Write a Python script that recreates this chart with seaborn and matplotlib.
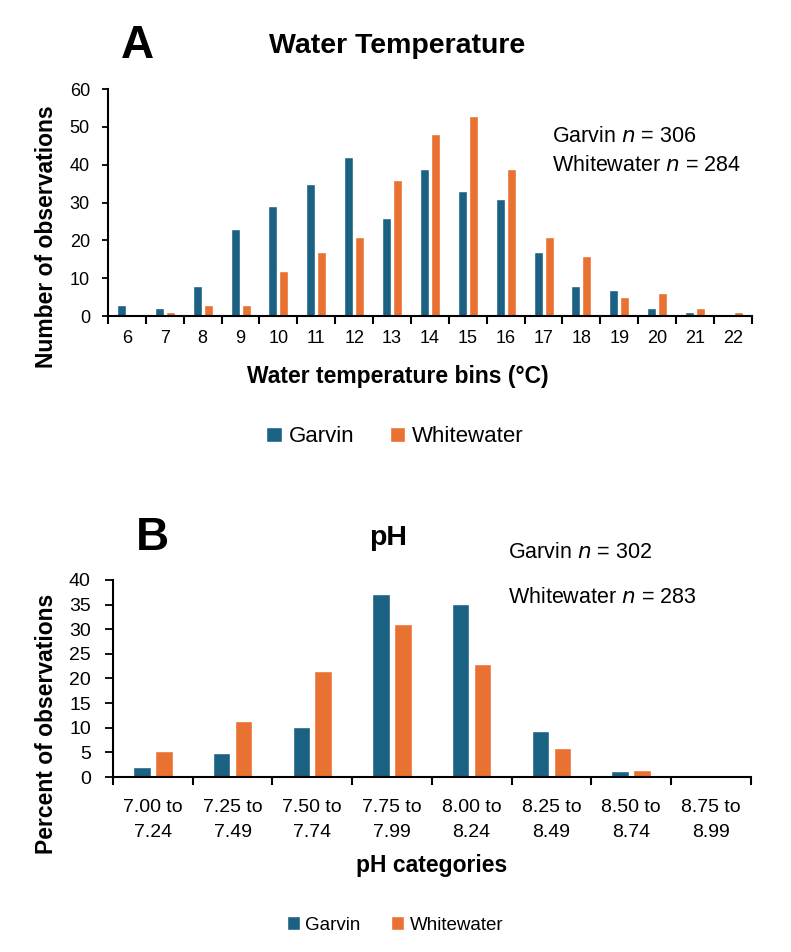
import seaborn as sns
import matplotlib.pyplot as plt
import numpy as np
import pandas as pd

# Panel A: water temperature bins (counts)
temp_bins = [str(t) for t in range(6, 23)]
garvin_temp = [3, 2, 8, 23, 29, 35, 42, 26, 39, 33, 31, 17, 8, 7, 2, 1, 0]
white_temp = [0, 1, 3, 3, 12, 17, 21, 36, 48, 53, 39, 21, 16, 5, 6, 2, 1]

# Panel B: pH categories (percent)
ph_bins = ['7.00 to\n7.24', '7.25 to\n7.49', '7.50 to\n7.74', '7.75 to\n7.99',
           '8.00 to\n8.24', '8.25 to\n8.49', '8.50 to\n8.74', '8.75 to\n8.99']
garvin_ph = [2.0, 4.9, 10.2, 37.1, 35.1, 9.3, 1.2, 0]
white_ph = [5.2, 11.3, 21.5, 31.0, 22.9, 5.8, 1.4, 0]

sites = ['Garvin', 'Whitewater']
palette = {'Garvin': '#1B6184', 'Whitewater': '#E97132'}


def to_long(bins, g, w):
    df = pd.DataFrame({'bin': bins, 'Garvin': g, 'Whitewater': w})
    return df.melt(id_vars='bin', var_name='site', value_name='value')


sns.set_theme(style='white')
plt.rcParams['font.family'] = ['Liberation Sans', 'DejaVu Sans']
plt.rcParams['text.color'] = 'black'
plt.rcParams['axes.labelcolor'] = 'black'
plt.rcParams['xtick.color'] = 'black'
plt.rcParams['ytick.color'] = 'black'

fig = plt.figure(figsize=(7.91, 9.52), dpi=100)

# axes positions in figure fractions (measured from reference)
axA = fig.add_axes([0.1365, 0.668, 0.814, 0.2384])
axB = fig.add_axes([0.1429, 0.1838, 0.806, 0.207])


def style_axis(ax, n, ymax, ystep, xpad, ypad, ytick_len):
    ax.set_xlim(-0.5, n - 0.5)
    ax.set_ylim(0, ymax)
    ax.set_yticks(np.arange(0, ymax + 0.1, ystep))
    ax.set_xticks(np.arange(-0.5, n, 1), minor=True)
    ax.tick_params(which='both', bottom=True, left=True)
    ax.tick_params(axis='x', which='major', length=0, pad=xpad)
    ax.tick_params(axis='x', which='minor', length=6, width=1.5, direction='out')
    ax.tick_params(axis='y', which='major', length=ytick_len, width=1.3, direction='out', pad=ypad)
    for s in ['top', 'right']:
        ax.spines[s].set_visible(False)
    for s in ['left', 'bottom']:
        ax.spines[s].set_color('black')
        ax.spines[s].set_linewidth(1.5)
    if ax.get_legend() is not None:
        ax.get_legend().remove()


# --- Panel A ---
dataA = to_long(temp_bins, garvin_temp, white_temp)
sns.barplot(data=dataA, x='bin', y='value', hue='site', palette=palette,
            width=0.58, gap=0.18, ax=axA, saturation=1)
style_axis(axA, len(temp_bins), 60, 10, xpad=10, ypad=9, ytick_len=4)
axA.tick_params(axis='both', labelsize=13)
axA.set_xlabel('Water temperature bins (°C)', fontsize=16.5, fontweight='bold')
axA.xaxis.set_label_coords(0.45, -0.215)
axA.set_ylabel('Number of observations', fontsize=16.5, fontweight='bold')
axA.yaxis.set_label_coords(-0.078, 0.35)
axA.text(0.69, 0.79, 'Garvin $\\it{n}$ = 306', transform=axA.transAxes, fontsize=15.5, va='center')
axA.text(0.69, 0.665, 'Whitewater $\\it{n}$ = 284', transform=axA.transAxes, fontsize=15.5, va='center')

fig.text(137 / 791, 1 - 46 / 952, 'A', fontsize=33, fontweight='bold', ha='center', va='center')
fig.text(397 / 791, 1 - 46 / 952, 'Water Temperature', fontsize=20.5, fontweight='bold', ha='center', va='center')

handles, labels = axA.get_legend_handles_labels()
fig.legend(handles[:2], sites, loc='center', bbox_to_anchor=(395 / 791, 1 - 437 / 952),
           ncol=2, frameon=False, fontsize=16, handlelength=0.7, handleheight=0.7,
           handletextpad=0.3, columnspacing=1.6)

# --- Panel B ---
dataB = to_long(ph_bins, garvin_ph, white_ph)
sns.barplot(data=dataB, x='bin', y='value', hue='site', palette=palette,
            width=0.55, gap=0.2, ax=axB, saturation=1)
style_axis(axB, len(ph_bins), 40, 5, xpad=15.5, ypad=10, ytick_len=6)
axB.tick_params(axis='both', labelsize=14)
for lbl in axB.get_xticklabels():
    lbl.set_linespacing(1.65)
axB.set_xlabel('pH categories', fontsize=16.5, fontweight='bold')
axB.xaxis.set_label_coords(0.5, -0.39)
axB.set_ylabel('Percent of observations', fontsize=16.5, fontweight='bold')
axB.yaxis.set_label_coords(-0.086, 0.27)
axB.text(0.62, 1.14, 'Garvin $\\it{n}$ = 302', transform=axB.transAxes, fontsize=15.5, va='center')
axB.text(0.62, 0.91, 'Whitewater $\\it{n}$ = 283', transform=axB.transAxes, fontsize=15.5, va='center')

fig.text(152 / 791, 1 - 538 / 952, 'B', fontsize=33, fontweight='bold', ha='center', va='center')
fig.text(388 / 791, 1 - 538 / 952, 'pH', fontsize=20.5, fontweight='bold', ha='center', va='center')

handles, labels = axB.get_legend_handles_labels()
fig.legend(handles[:2], sites, loc='center', bbox_to_anchor=(395 / 791, 1 - 925 / 952),
           ncol=2, frameon=False, fontsize=13.5, handlelength=0.7, handleheight=0.7,
           handletextpad=0.3, columnspacing=1.6)

fig.savefig('out.png', dpi=100)
